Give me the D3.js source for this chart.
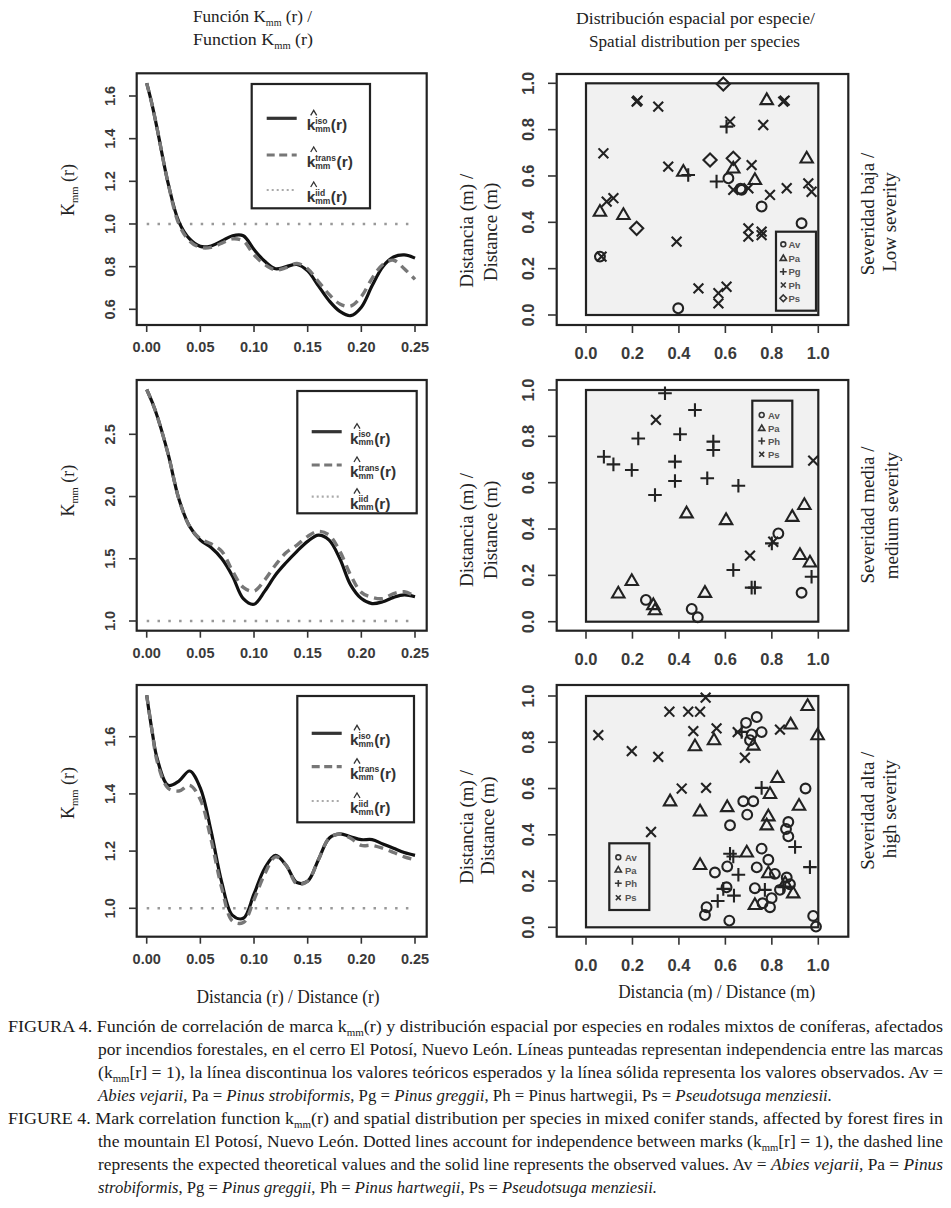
<!DOCTYPE html>
<html>
<head>
<meta charset="utf-8">
<script src="https://cdn.jsdelivr.net/npm/d3@7"></script>
<style>
  body { margin: 0; background: #fff; }
</style>
</head>
<body>
<div id="root"></div>
<script>
const width = 951;
const height = 1208;

// ---- K_mm(r) curves ----
const rGrid = [0, 0.005, 0.01, 0.02, 0.03, 0.04, 0.05, 0.06, 0.07, 0.08, 0.09, 0.1, 0.11, 0.12,
  0.13, 0.14, 0.15, 0.16, 0.17, 0.18, 0.19, 0.2, 0.21, 0.22, 0.23, 0.24, 0.25];

const isoLow = [1.66, 1.56, 1.44, 1.19, 1.01, 0.93, 0.895, 0.897, 0.92, 0.945, 0.945, 0.88, 0.825, 0.79,
  0.8, 0.81, 0.78, 0.71, 0.64, 0.59, 0.57, 0.61, 0.71, 0.8, 0.845, 0.855, 0.84];
const transLow = [1.66, 1.56, 1.44, 1.19, 1.0, 0.92, 0.89, 0.89, 0.91, 0.93, 0.92, 0.855, 0.81, 0.785,
  0.795, 0.815, 0.79, 0.73, 0.67, 0.625, 0.615, 0.66, 0.745, 0.81, 0.83, 0.79, 0.74];

const isoMed = [2.86, 2.76, 2.64, 2.34, 1.98, 1.76, 1.65, 1.59, 1.5, 1.36, 1.18, 1.135, 1.24, 1.37,
  1.47, 1.56, 1.64, 1.69, 1.65, 1.5, 1.29, 1.18, 1.14, 1.155, 1.19, 1.21, 1.195];
const transMed = [2.86, 2.76, 2.64, 2.34, 1.98, 1.76, 1.66, 1.62, 1.56, 1.4, 1.27, 1.24, 1.33, 1.45,
  1.55, 1.61, 1.68, 1.72, 1.69, 1.56, 1.37, 1.23, 1.19, 1.18, 1.22, 1.235, 1.2];

const isoHigh = [1.745, 1.62, 1.52, 1.43, 1.445, 1.48, 1.42, 1.27, 1.09, 0.975, 0.965, 1.05, 1.14, 1.185,
  1.15, 1.09, 1.095, 1.17, 1.245, 1.26, 1.25, 1.24, 1.24, 1.225, 1.21, 1.195, 1.185];
const transHigh = [1.745, 1.62, 1.51, 1.42, 1.41, 1.43, 1.38, 1.24, 1.07, 0.955, 0.95, 1.03, 1.12, 1.18,
  1.15, 1.085, 1.095, 1.17, 1.245, 1.26, 1.245, 1.22, 1.22, 1.21, 1.195, 1.18, 1.17];

const rTicks = [0, 0.05, 0.1, 0.15, 0.2, 0.25];
const kTicksLow = [0.6, 0.8, 1.0, 1.2, 1.4, 1.6];
const kTicksMed = [1.0, 1.5, 2.0, 2.5];
const kTicksHigh = [1.0, 1.2, 1.4, 1.6];
const mTicks = [0, 0.2, 0.4, 0.6, 0.8, 1.0];

// ---- tree positions per species (x, y in m) ----
const lowAv = [[0.397, 0.029], [0.756, 0.468], [0.928, 0.396], [0.613, 0.59], [0.67, 0.54], [0.665, 0.545], [0.06, 0.252]];
const lowPa = [[0.778, 0.928], [0.95, 0.676], [0.419, 0.619], [0.06, 0.446], [0.161, 0.432], [0.634, 0.633], [0.727, 0.583]];
const lowPg = [[0.605, 0.813], [0.44, 0.604], [0.562, 0.576]];
const lowPh = [[0.218, 0.921], [0.222, 0.925], [0.311, 0.899], [0.849, 0.921], [0.855, 0.925], [0.62, 0.835], [0.763, 0.82],
  [0.075, 0.698], [0.354, 0.64], [0.713, 0.647], [0.634, 0.54], [0.699, 0.547], [0.792, 0.518], [0.864, 0.547],
  [0.957, 0.568], [0.971, 0.532], [0.118, 0.504], [0.089, 0.489], [0.39, 0.317], [0.699, 0.374], [0.699, 0.338],
  [0.756, 0.36], [0.756, 0.345], [0.484, 0.115], [0.57, 0.094], [0.57, 0.05], [0.605, 0.122], [0.067, 0.252]];
const lowPs = [[0.591, 0.997], [0.534, 0.669], [0.634, 0.676], [0.218, 0.374]];

const medAv = [[0.258, 0.094], [0.455, 0.055], [0.481, 0.019], [0.828, 0.381], [0.928, 0.125]];
const medPa = [[0.139, 0.122], [0.197, 0.176], [0.29, 0.072], [0.297, 0.05], [0.433, 0.468], [0.512, 0.125],
  [0.603, 0.439], [0.888, 0.453], [0.94, 0.504], [0.921, 0.288], [0.964, 0.256]];
const medPh = [[0.34, 0.986], [0.469, 0.914], [0.225, 0.791], [0.405, 0.809], [0.548, 0.777], [0.548, 0.741],
  [0.077, 0.712], [0.118, 0.679], [0.197, 0.655], [0.383, 0.691], [0.383, 0.607], [0.522, 0.619], [0.656, 0.587],
  [0.297, 0.547], [0.634, 0.223], [0.713, 0.147], [0.727, 0.147], [0.971, 0.194], [0.8, 0.338]];
const medPs = [[0.301, 0.871], [0.978, 0.695], [0.706, 0.285], [0.806, 0.345]];

const highAv = [[0.735, 0.909], [0.689, 0.884], [0.713, 0.834], [0.756, 0.844], [0.706, 0.809], [0.677, 0.545],
  [0.72, 0.545], [0.694, 0.487], [0.62, 0.441], [0.608, 0.263], [0.555, 0.237], [0.756, 0.34], [0.785, 0.292],
  [0.735, 0.259], [0.813, 0.231], [0.864, 0.215], [0.871, 0.455], [0.861, 0.425], [0.871, 0.393], [0.945, 0.6],
  [0.727, 0.169], [0.799, 0.126], [0.792, 0.087], [0.76, 0.104], [0.519, 0.087], [0.512, 0.053], [0.617, 0.029],
  [0.978, 0.049], [0.99, 0.003], [0.878, 0.186], [0.835, 0.162], [0.605, 0.173]];
const highPa = [[0.469, 0.783], [0.551, 0.809], [0.362, 0.545], [0.491, 0.501], [0.491, 0.27], [0.608, 0.52],
  [0.72, 0.786], [0.824, 0.646], [0.792, 0.577], [0.785, 0.48], [0.778, 0.441], [0.917, 0.526], [0.881, 0.877],
  [0.954, 0.957], [0.997, 0.831], [0.692, 0.324], [0.727, 0.097], [0.857, 0.191], [0.892, 0.147], [0.785, 0.234]];
const highPh = [[0.756, 0.603], [0.964, 0.26], [0.9, 0.347], [0.62, 0.318], [0.634, 0.306], [0.656, 0.227],
  [0.591, 0.166], [0.567, 0.114], [0.637, 0.137], [0.77, 0.162], [0.67, 0.845], [0.849, 0.176]];
const highPs = [[0.053, 0.831], [0.197, 0.762], [0.311, 0.737], [0.359, 0.932], [0.44, 0.932], [0.491, 0.932],
  [0.515, 0.993], [0.462, 0.848], [0.562, 0.86], [0.412, 0.6], [0.517, 0.603], [0.28, 0.412], [0.653, 0.844],
  [0.684, 0.733], [0.835, 0.855]];

const serif = "'Liberation Serif', 'Times New Roman', serif";
const sans = "'Liberation Sans', Arial, sans-serif";

const svg = d3
  .select("#root")
  .append("svg")
  .attr("width", width)
  .attr("height", height)
  .attr("viewBox", [0, 0, width, height]);

// text with a "mm" subscript in the middle
function subText(sel, before, after, subSize, shift) {
  sel.append("tspan").text(before);
  sel.append("tspan").attr("font-size", subSize).attr("dy", shift).text("mm");
  sel.append("tspan").attr("dy", -shift).text(after);
  return sel;
}

// column titles
subText(svg.append("text").attr("x", 193).attr("y", 22).attr("font-family", serif).attr("font-size", 17)
  .attr("fill", "#222").attr("textLength", 119).attr("lengthAdjust", "spacingAndGlyphs"),
  "Función K", " (r) /", 10, 4);
subText(svg.append("text").attr("x", 193).attr("y", 45).attr("font-family", serif).attr("font-size", 17)
  .attr("fill", "#222").attr("textLength", 120).attr("lengthAdjust", "spacingAndGlyphs"),
  "Function  K", " (r)", 10, 4);
svg.append("text").attr("x", 576).attr("y", 24)
  .attr("font-family", serif).attr("font-size", 17.5).attr("fill", "#222")
  .attr("textLength", 239).attr("lengthAdjust", "spacingAndGlyphs")
  .text("Distribución espacial  por especie/");
svg.append("text").attr("x", 589).attr("y", 47)
  .attr("font-family", serif).attr("font-size", 17.5).attr("fill", "#222")
  .attr("textLength", 211).attr("lengthAdjust", "spacingAndGlyphs")
  .text("Spatial distribution per species");

// ---------- left column: K_mm(r) ----------
const xR = d3.scaleLinear().domain([0, 0.25]).range([146.7, 415]);

const kPanels = [
  { iso: isoLow, trans: transLow, ticks: kTicksLow, top: 73.3, bottom: 325, yDom: [0.6, 1.6], yRng: [309.3, 96],
    legend: { x: 251.7, y: 84, w: 118.3, h: 124.3, rows: [118.3, 155, 190], lx: 266.7, tx: 306.7 }, labY: 190 },
  { iso: isoMed, trans: transMed, ticks: kTicksMed, top: 380, bottom: 630.7, yDom: [1, 2.5], yRng: [621, 434.3],
    legend: { x: 297.3, y: 391, w: 119.4, h: 122.3, rows: [431.7, 465, 496.7], lx: 311.7, tx: 350 }, labY: 490.7 },
  { iso: isoHigh, trans: transHigh, ticks: kTicksHigh, top: 685, bottom: 936.7, yDom: [1, 1.6], yRng: [908.3, 736.7],
    legend: { x: 297.3, y: 696, w: 116.7, h: 126.3, rows: [733.3, 766.7, 801], lx: 311.7, tx: 350 }, labY: 793 },
];

function kLabel(g, x, y, sup) {
  const t = g.append("g").attr("font-family", sans).attr("font-weight", "bold").attr("fill", "#333");
  t.append("text").attr("x", x).attr("y", y + 12).attr("font-size", 15.5).text("k");
  t.append("path")
    .attr("d", `M${x + 4},${y - 3}L${x + 7},${y - 8}L${x + 10},${y - 3}`)
    .attr("fill", "none").attr("stroke", "#333").attr("stroke-width", 1.3);
  const s1 = t.append("text").attr("x", x + 8.5).attr("y", y + 5.5).attr("font-size", 8.5).text(sup);
  const s2 = t.append("text").attr("x", x + 8.5).attr("y", y + 13.5).attr("font-size", 8.5).text("mm");
  const w = Math.max(s1.node().getComputedTextLength(), s2.node().getComputedTextLength());
  t.append("text").attr("x", x + 9 + w).attr("y", y + 12).attr("font-size", 15.5).text("(r)");
}

kPanels.forEach((p) => {
  const y = d3.scaleLinear().domain(p.yDom).range(p.yRng);
  const g = svg.append("g");
  const line = (vals) =>
    d3.line().x((d, i) => xR(rGrid[i])).y((d) => y(d)).curve(d3.curveCatmullRom)(vals);

  // iid reference at 1
  g.append("line")
    .attr("x1", xR(0)).attr("x2", xR(0.25)).attr("y1", y(1)).attr("y2", y(1))
    .attr("stroke", "#999").attr("stroke-width", 2.4).attr("stroke-dasharray", "2.5,8.3");

  g.append("path").attr("d", line(p.iso))
    .attr("fill", "none").attr("stroke", "#111").attr("stroke-width", 3.2);
  g.append("path").attr("d", line(p.trans))
    .attr("fill", "none").attr("stroke", "#777").attr("stroke-width", 3.4)
    .attr("stroke-dasharray", "9,6");

  // frame
  g.append("rect")
    .attr("x", 136.7).attr("y", p.top).attr("width", 290).attr("height", p.bottom - p.top)
    .attr("fill", "none").attr("stroke", "#222").attr("stroke-width", 2.2);

  // axes
  rTicks.forEach((t) => {
    g.append("line").attr("x1", xR(t)).attr("x2", xR(t)).attr("y1", p.bottom).attr("y2", p.bottom + 7)
      .attr("stroke", "#333").attr("stroke-width", 1.6);
    g.append("text").attr("x", xR(t)).attr("y", p.bottom + 27).attr("text-anchor", "middle")
      .attr("font-family", sans).attr("font-weight", "bold").attr("font-size", 14.5).attr("fill", "#3a3a3a")
      .text(t.toFixed(2));
  });
  p.ticks.forEach((t) => {
    g.append("line").attr("x1", 136.7).attr("x2", 129).attr("y1", y(t)).attr("y2", y(t))
      .attr("stroke", "#333").attr("stroke-width", 1.6);
    g.append("text")
      .attr("transform", `translate(115,${y(t)}) rotate(-90)`)
      .attr("text-anchor", "middle")
      .attr("font-family", sans).attr("font-weight", "bold").attr("font-size", 14.5).attr("fill", "#3a3a3a")
      .text(t.toFixed(1));
  });

  subText(g.append("text")
    .attr("transform", `translate(74,${p.labY}) rotate(-90)`)
    .attr("text-anchor", "middle")
    .attr("font-family", serif).attr("font-size", 18).attr("fill", "#222"), "K", " (r)", 10.5, 4);

  // legend
  const L = p.legend;
  g.append("rect").attr("x", L.x).attr("y", L.y).attr("width", L.w).attr("height", L.h)
    .attr("fill", "#fff").attr("stroke", "#222").attr("stroke-width", 2.2);
  const styles = [
    { c: "#333", w: 3.2, dash: null, sup: "iso" },
    { c: "#777", w: 3.2, dash: "8,4.5", sup: "trans" },
    { c: "#aaa", w: 2.2, dash: "2,3", sup: "iid" },
  ];
  styles.forEach((s, i) => {
    g.append("line").attr("x1", L.lx).attr("x2", L.lx + 30).attr("y1", L.rows[i]).attr("y2", L.rows[i])
      .attr("stroke", s.c).attr("stroke-width", s.w).attr("stroke-dasharray", s.dash);
    kLabel(g, L.tx, L.rows[i], s.sup);
  });
});

svg.append("text").attr("x", 288).attr("y", 1003).attr("text-anchor", "middle")
  .attr("font-family", serif).attr("font-size", 18).attr("fill", "#222")
  .attr("textLength", 183).attr("lengthAdjust", "spacingAndGlyphs")
  .text("Distancia (r) / Distance (r)");

// ---------- right column: spatial distribution ----------
const xM = d3.scaleLinear().domain([0, 1]).range([586, 818.3]);

const shapes = {
  circle: (s) => `M${4.9 * s},0A${4.9 * s},${4.9 * s} 0 1,1 ${-4.9 * s},0A${4.9 * s},${4.9 * s} 0 1,1 ${4.9 * s},0Z`,
  triangle: (s) => `M0,${-6.6 * s}L${6.2 * s},${4.1 * s}L${-6.2 * s},${4.1 * s}Z`,
  plus: (s) => `M${-6.8 * s},0H${6.8 * s}M0,${-6.8 * s}V${6.8 * s}`,
  times: (s) => `M${-4.9 * s},${-4.9 * s}L${4.9 * s},${4.9 * s}M${-4.9 * s},${4.9 * s}L${4.9 * s},${-4.9 * s}`,
  diamond: (s) => `M0,${-6.6 * s}L${6.6 * s},0L0,${6.6 * s}L${-6.6 * s},0Z`,
};

const sPanels = [
  { series: [lowAv, lowPa, lowPg, lowPh, lowPs], kinds: ["circle", "triangle", "plus", "times", "diamond"],
    names: ["Av", "Pa", "Pg", "Ph", "Ps"], top: 74, bottom: 325, inTop: 83.3, inBottom: 315,
    legend: { x: 776, y: 231.7, w: 40, h: 79, rows: [244.3, 258.3, 271.7, 285, 298.3], sx: 783.3, tx: 788.5 },
    labs: [["Distancia (m) /", 466.7, 230.8], ["Distance (m)", 490.7, 232], ["Severidad baja /", 868.3, 214], ["Low severity", 890, 222]] },
  { series: [medAv, medPa, medPh, medPs], kinds: ["circle", "triangle", "plus", "times"],
    names: ["Av", "Pa", "Ph", "Ps"], top: 380, bottom: 630.7, inTop: 390, inBottom: 621.7,
    legend: { x: 752.3, y: 400.7, w: 40, h: 66, rows: [415, 428.3, 441, 454.3], sx: 761.7, tx: 768 },
    labs: [["Distancia (m) /", 466.7, 530], ["Distance (m)", 490.7, 530], ["Severidad media /", 868.3, 515], ["medium severity", 891.7, 515.7]] },
  { series: [highAv, highPa, highPh, highPs], kinds: ["circle", "triangle", "plus", "times"],
    names: ["Av", "Pa", "Ph", "Ps"], top: 685, bottom: 936.7, inTop: 696, inBottom: 927.3,
    legend: { x: 609.3, y: 843.3, w: 40, h: 66.7, rows: [857.3, 870, 883.3, 897.7], sx: 618.3, tx: 625 },
    labs: [["Distancia (m) /", 466.7, 827], ["Distance (m)", 488.3, 825.7], ["Severidad alta /", 868.3, 810.7], ["high severity", 890, 809]] },
];

sPanels.forEach((p) => {
  const y = d3.scaleLinear().domain([0, 1]).range([p.inBottom, p.inTop]);
  const g = svg.append("g");

  g.append("rect").attr("x", 556.7).attr("y", p.top).attr("width", 291.6).attr("height", p.bottom - p.top)
    .attr("fill", "#fff").attr("stroke", "#222").attr("stroke-width", 2.2);
  g.append("rect").attr("x", xM(0)).attr("y", y(1)).attr("width", xM(1) - xM(0)).attr("height", y(0) - y(1))
    .attr("fill", "#f1f1f1").attr("stroke", "#222").attr("stroke-width", 2.2);

  mTicks.forEach((t) => {
    g.append("line").attr("x1", xM(t)).attr("x2", xM(t)).attr("y1", p.bottom).attr("y2", p.bottom + 8)
      .attr("stroke", "#333").attr("stroke-width", 1.6);
    g.append("text").attr("x", xM(t)).attr("y", p.bottom + 34).attr("text-anchor", "middle")
      .attr("font-family", sans).attr("font-weight", "bold").attr("font-size", 16.5).attr("fill", "#3a3a3a")
      .text(t.toFixed(1));
    g.append("line").attr("x1", 556.7).attr("x2", 548).attr("y1", y(t)).attr("y2", y(t))
      .attr("stroke", "#333").attr("stroke-width", 1.6);
    g.append("text")
      .attr("transform", `translate(534,${y(t)}) rotate(-90)`)
      .attr("text-anchor", "middle")
      .attr("font-family", sans).attr("font-weight", "bold").attr("font-size", 16.5).attr("fill", "#3a3a3a")
      .text(t.toFixed(1));
  });

  p.series.forEach((pts, i) => {
    g.append("g")
      .selectAll("path")
      .data(pts)
      .join("path")
      .attr("transform", (d) => `translate(${xM(d[0])},${y(d[1])})`)
      .attr("d", shapes[p.kinds[i]](1))
      .attr("fill", "none")
      .attr("stroke", "#222")
      .attr("stroke-width", 2.1);
  });

  const L = p.legend;
  g.append("rect").attr("x", L.x).attr("y", L.y).attr("width", L.w).attr("height", L.h)
    .attr("fill", "#f1f1f1").attr("stroke", "#222").attr("stroke-width", 2.2);
  p.names.forEach((n, i) => {
    g.append("path").attr("transform", `translate(${L.sx},${L.rows[i]})`)
      .attr("d", shapes[p.kinds[i]](0.5))
      .attr("fill", "none").attr("stroke", "#333").attr("stroke-width", 1.6);
    g.append("text").attr("x", L.tx).attr("y", L.rows[i] + 3.5)
      .attr("font-family", sans).attr("font-weight", "bold").attr("font-size", 9.5).attr("fill", "#555")
      .text(n);
  });

  p.labs.forEach(([t, cx, cy]) => {
    g.append("text")
      .attr("transform", `translate(${cx + 6},${cy}) rotate(-90)`)
      .attr("text-anchor", "middle")
      .attr("font-family", serif).attr("font-size", 19).attr("fill", "#222")
      .text(t);
  });
});

svg.append("text").attr("x", 716.7).attr("y", 998).attr("text-anchor", "middle")
  .attr("font-family", serif).attr("font-size", 18.5).attr("fill", "#222")
  .attr("textLength", 197).attr("lengthAdjust", "spacingAndGlyphs")
  .text("Distancia (m) / Distance (m)");

// ---------- caption ----------
// [segment text, style] ; style: "" roman, "i" italic, "s" subscript
const captionLines = [
  { x: 8, end: 943, segs: [["FIGURA 4. Función de correlación de marca k", ""], ["mm", "s"],
    ["(r) y distribución espacial por especies en rodales mixtos de coníferas, afectados", ""]] },
  { x: 98, end: 943, segs: [["por incendios forestales, en el cerro El Potosí, Nuevo León. Líneas punteadas representan independencia entre las marcas", ""]] },
  { x: 98, end: 943, segs: [["(k", ""], ["mm", "s"], ["[r] = 1), la línea discontinua los valores teóricos esperados y la línea sólida representa los valores observados. Av =", ""]] },
  { x: 98, end: 832, segs: [["Abies vejarii,", "i"], [" Pa = ", ""], ["Pinus strobiformis", "i"], [", Pg = ", ""],
    ["Pinus greggii", "i"], [", Ph = Pinus hartwegii, Ps = ", ""], ["Pseudotsuga menziesii.", "i"]] },
  { x: 8, end: 943, segs: [["FIGURE 4. Mark correlation function k", ""], ["mm", "s"],
    ["(r) and spatial distribution per species in mixed conifer stands, affected by forest fires in", ""]] },
  { x: 98, end: 943, segs: [["the mountain El Potosí, Nuevo León. Dotted lines account for independence between marks (k", ""], ["mm", "s"],
    ["[r] = 1), the dashed line", ""]] },
  { x: 98, end: 943, segs: [["represents the expected theoretical values and the solid line represents the observed values. Av = ", ""],
    ["Abies vejarii,", "i"], [" Pa = ", ""], ["Pinus", "i"]] },
  { x: 98, end: 657, segs: [["strobiformis", "i"], [", Pg = ", ""], ["Pinus greggii", "i"], [", Ph = ", ""],
    ["Pinus hartwegii", "i"], [", Ps = ", ""], ["Pseudotsuga menziesii.", "i"]] },
];

captionLines.forEach((ln, i) => {
  const t = svg.append("text")
    .attr("x", ln.x).attr("y", 1032 + i * 23)
    .attr("font-family", serif).attr("font-size", 16.5).attr("fill", "#1a1a1a")
    .attr("textLength", ln.end - ln.x).attr("lengthAdjust", "spacingAndGlyphs");
  let down = false;
  ln.segs.forEach(([s, st]) => {
    const ts = t.append("tspan").text(s);
    if (st === "i") ts.attr("font-style", "italic");
    if (st === "s") {
      ts.attr("font-size", 10).attr("dy", 3.5);
      down = true;
    } else if (down) {
      ts.attr("dy", -3.5);
      down = false;
    }
  });
});
</script>
</body>
</html>
